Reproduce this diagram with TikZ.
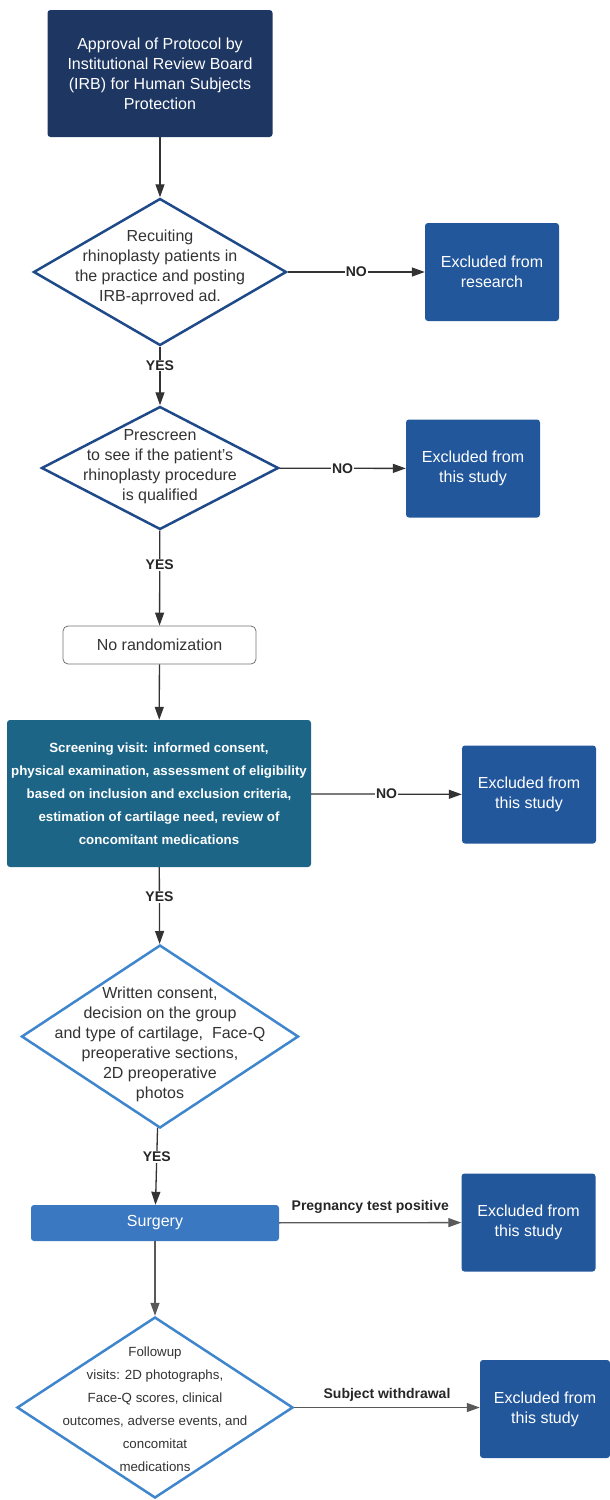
\documentclass[tikz,border=0pt]{standalone}
\usepackage{fontspec}
\setmainfont{Liberation Sans}
\usepackage{tikz}
\usetikzlibrary{shapes.geometric,arrows.meta}

\definecolor{irbnavy}{RGB}{30,54,98}
\definecolor{qblue}{RGB}{31,74,138}
\definecolor{exblue}{RGB}{35,87,155}
\definecolor{scrteal}{RGB}{28,101,135}
\definecolor{lblue}{RGB}{63,134,204}
\definecolor{surgblue}{RGB}{58,120,194}
\definecolor{txtgray}{RGB}{51,51,51}

\tikzset{
  fillbox/.style={rectangle, rounded corners=3pt, text=white, align=center, inner sep=0pt},
  exclbox/.style={fillbox, fill=exblue, minimum width=134pt, minimum height=98pt,
    font=\fontsize{16}{20}\selectfont},
  decision/.style={diamond, draw=#1, line width=2.5pt, fill=white, inner sep=0pt},
  dtext/.style={align=center, text=txtgray},
  arr/.style={draw=black!80, line width=1.3pt, -{Triangle[length=13pt,width=9pt]}},
  lbl/.style={font=\bfseries\fontsize{14}{16}\selectfont, text=black!85, fill=white, inner sep=1pt},
}

\begin{document}
\begin{tikzpicture}[x=1pt,y=-1pt]
\useasboundingbox (0,0) rectangle (610,1500);

% main column
\node[fillbox, fill=irbnavy, minimum width=225pt, minimum height=127pt,
  font=\fontsize{16}{20}\selectfont] (irb) at (160,73.5)
  {Approval of Protocol by\\Institutional Review Board\\(IRB) for Human Subjects\\Protection};

\node[decision=qblue, minimum width=253pt, minimum height=147pt] (recruit) at (160,272) {};
\node[dtext, font=\fontsize{16}{20}\selectfont] (recruittxt) at (160,267)
  {Recuiting\\rhinoplasty patients in\\the practice and posting\\IRB-aprroved ad.};

\node[decision=qblue, minimum width=237pt, minimum height=123pt] (prescr) at (160,468) {};
\node[dtext, font=\fontsize{16}{20}\selectfont] (prescrtxt) at (160,467)
  {Prescreen\\to see if the patient's\\rhinoplasty procedure\\is qualified};

\node[rectangle, rounded corners=5pt, draw=black!55, line width=0.8pt, fill=white,
  minimum width=193pt, minimum height=38pt, text=txtgray,
  font=\fontsize{16}{20}\selectfont] (norand) at (159.5,645) {No randomization};

\node[fillbox, fill=scrteal, minimum width=304pt, minimum height=147pt,
  font=\bfseries\fontsize{13.3}{23}\selectfont] (screen) at (159,793.5)
  {Screening visit: informed consent,\\physical examination, assessment of eligibility\\
   based on inclusion and exclusion criteria,\\estimation of cartilage need, review of\\
   concomitant medications};

\node[decision=lblue, minimum width=277pt, minimum height=183pt] (consent) at (160,1036.5) {};
\node[dtext, font=\fontsize{16}{20}\selectfont] (consenttxt) at (160,1044)
  {Written consent,\\decision on the group\\and type of cartilage,~ Face-Q\\
   preoperative sections,\\2D preoperative\\photos};

\node[fillbox, fill=surgblue, minimum width=248pt, minimum height=36pt,
  font=\fontsize{16}{20}\selectfont] (surg) at (155,1223) {Surgery};

\node[decision=lblue, minimum width=276pt, minimum height=181pt] (follow) at (155,1407.5) {};
\node[dtext, font=\fontsize{13.3}{23}\selectfont] (followtxt) at (155,1409.5)
  {Followup\\visits: 2D photographs,\\Face-Q scores, clinical\\
   outcomes, adverse events, and\\concomitat\\medications};

% exclusions
\node[exclbox] (exres) at (492,272) {Excluded from\\research};
\node[exclbox] (exprescr) at (473,468.5) {Excluded from\\this study};
\node[exclbox] (exscreen) at (529,794.5) {Excluded from\\this study};
\node[exclbox] (exsurg) at (528.5,1222.5) {Excluded from\\this study};
\node[exclbox, minimum width=130pt] (exfollow) at (545,1409) {Excluded from\\this study};

% connectors
\draw[arr] (irb) -- (recruit);
\draw[arr] (recruit) -- node[lbl, pos=0.32]{YES} (prescr);
\draw[arr] (prescr) -- node[lbl, pos=0.36]{YES} (norand);
\draw[arr] (norand) -- (screen);
\draw[arr] (screen) -- node[lbl, pos=0.39]{YES} (consent);
\draw[arr] (consent) -- node[lbl, pos=0.38]{YES} (surg);
\draw[arr, draw=black!65] (surg) -- (follow);

\draw[arr] (recruit) -- node[lbl]{NO} (exres);
\draw[arr] (prescr) -- node[lbl]{NO} (exprescr);
\draw[arr] (screen) -- node[lbl]{NO} (exscreen);
\draw[arr, draw=black!65] (surg) -- node[lbl, fill=none, above=8pt]{Pregnancy test positive} (exsurg);
\draw[arr, draw=black!65] (follow.east) -- node[lbl, fill=none, above=4pt]{Subject withdrawal}
  (follow.east -| exfollow.west);
\end{tikzpicture}
\end{document}
